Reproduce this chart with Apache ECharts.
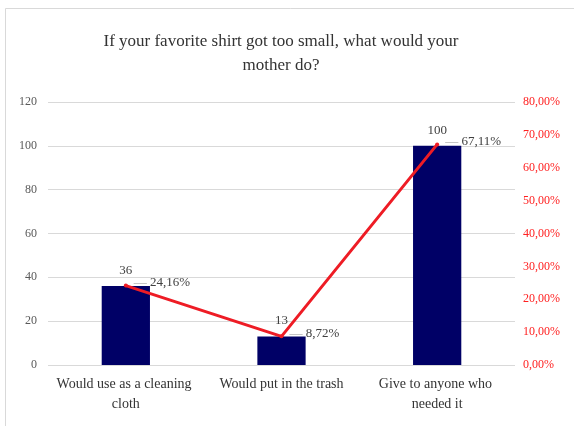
<!DOCTYPE html>
<html>
<head>
<meta charset="utf-8">
<script src="https://cdn.jsdelivr.net/npm/echarts@6/dist/echarts.min.js"></script>
<style>
  html, body { margin: 0; padding: 0; background: #fff; }
  #chart { width: 574px; height: 426px; }
</style>
</head>
<body>
<div id="chart"></div>
<script>
// Survey answers: counts (bars, left axis) and shares (line, right axis)
const categories = ['Would use as a cleaning cloth', 'Would put in the trash', 'Give to anyone who needed it'];
const counts = [36, 13, 100];
const shares = [24.16, 8.72, 67.11];
const countTicks = { min: 0, max: 120, interval: 20 };
const shareTicks = { min: 0, max: 80, interval: 10 };

const serif = '"Liberation Serif", "DejaVu Serif", serif';
const fmtPct = v => v.toFixed(2).replace('.', ',') + '%';

const chart = echarts.init(document.getElementById('chart'));
chart.setOption({
  animation: false,
  backgroundColor: '#fff',
  graphic: [{
    type: 'rect',
    shape: { x: 5.5, y: 8.5, width: 700, height: 600 },
    style: { fill: 'none', stroke: '#d9d9d9', lineWidth: 1 },
    silent: true
  }],
  title: {
    text: 'If your favorite shirt got too small, what would your\nmother do?',
    left: 276,
    textAlign: 'center',
    top: 25,
    textStyle: { fontFamily: serif, fontSize: 17, fontWeight: 'normal', color: '#333', lineHeight: 24 }
  },
  grid: { left: 48, right: 59, top: 102, bottom: 61 },
  xAxis: {
    type: 'category',
    data: categories,
    axisLine: { show: false },
    axisTick: { show: false },
    axisLabel: {
      fontFamily: serif, fontSize: 14, color: '#333', margin: 9,
      width: 152, overflow: 'break', lineHeight: 20, interval: 0
    }
  },
  yAxis: [{
    type: 'value',
    min: countTicks.min, max: countTicks.max, interval: countTicks.interval,
    axisLine: { show: false }, axisTick: { show: false },
    axisLabel: { fontFamily: serif, fontSize: 12, color: '#595959', margin: 11 },
    splitLine: { lineStyle: { color: '#d9d9d9', width: 1 } }
  }, {
    type: 'value',
    min: shareTicks.min, max: shareTicks.max, interval: shareTicks.interval,
    axisLine: { show: false }, axisTick: { show: false },
    axisLabel: { fontFamily: serif, fontSize: 12, color: '#ff2020', margin: 8, formatter: fmtPct },
    splitLine: { show: false }
  }],
  series: [{
    type: 'bar',
    data: counts,
    yAxisIndex: 0,
    barWidth: '31%',
    itemStyle: { color: '#000066' },
    label: {
      show: true, position: 'top', distance: 9,
      fontFamily: serif, fontSize: 13, color: '#404040'
    },
    z: 2
  }, {
    type: 'line',
    data: shares,
    yAxisIndex: 1,
    symbol: 'circle',
    symbolSize: 4,
    lineStyle: { color: '#ee1c25', width: 3 },
    itemStyle: { color: '#ee1c25' },
    label: {
      show: true, position: 'right', distance: 6, offset: [0, -3],
      fontFamily: serif, fontSize: 13, color: '#404040',
      formatter: p => '{d|—} ' + fmtPct(p.value),
      rich: { d: { color: '#a6a6a6', fontFamily: serif, fontSize: 13 } }
    },
    z: 3
  }]
});
</script>
</body>
</html>
